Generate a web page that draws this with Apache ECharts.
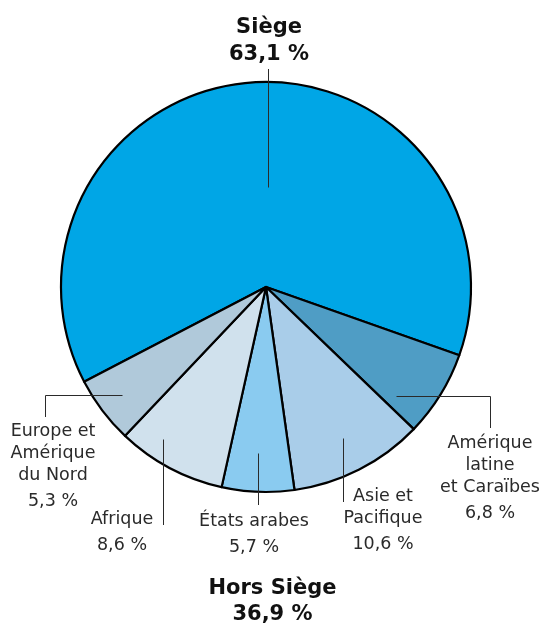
<!DOCTYPE html>
<html><head><meta charset="utf-8">
<script src="https://cdn.jsdelivr.net/npm/echarts@6/dist/echarts.min.js"></script>
<style>html,body{margin:0;padding:0;background:#fff}#c{width:545px;height:623px}</style>
</head><body><div id="c"></div>
<script>
// ---- data ----
const categories = ['Siège', 'Amérique latine et Caraïbes', 'Asie et Pacifique', 'États arabes', 'Afrique', 'Europe et Amérique du Nord'];
const labelNames = ['Siège', 'Amérique\nlatine\net Caraïbes', 'Asie et\nPacifique', 'États arabes', 'Afrique', 'Europe et\nAmérique\ndu Nord'];
const values = [63.1, 6.8, 10.6, 5.7, 8.6, 5.3];
const percentLabels = ['63,1 %', '6,8 %', '10,6 %', '5,7 %', '8,6 %', '5,3 %'];
const groupTitle = 'Hors Siège';
const groupPercent = '36,9 %';

// ---- styles / layout ----
const colors = ['#00A6E6', '#4F9DC5', '#A9CDE9', '#8ACBF0', '#D0E1ED', '#B0C9DA'];
const CX = 266, CY = 287, R = 205, START = 207.5;
const FONT = 'DejaVu Sans';
// leader lines: anchor radius, angle tweak from slice middle, optional elbow x, end y; label top-centre
const leaders = [
  { r: 100, da: -5.2, endY: 69,  lx: 269, ly: 14 },
  { r: 170, da: -8.3, elbowX: 490, endY: 428, lx: 490, ly: 432 },
  { r: 170, da: 0,    endY: 502, lx: 383, ly: 485 },
  { r: 166, da: -0.5, endY: 505, lx: 254, ly: 510 },
  { r: 184, da: -6.1, endY: 525, lx: 122, ly: 508 },
  { r: 180, da: 0,    elbowX: 45, endY: 417, lx: 53, ly: 420 }
];

const total = values.reduce((a, b) => a + b, 0);
const midAngles = [];
(function () {
  let a = START;
  values.forEach(v => {
    const sweep = v / total * 360;
    midAngles.push(a - sweep / 2);
    a -= sweep;
  });
})();

function leaderPoints(i) {
  const L = leaders[i];
  const th = (midAngles[i] + L.da) * Math.PI / 180;
  const ax = Math.round(CX + L.r * Math.cos(th)) + 0.5;
  const ay = Math.round(CY - L.r * Math.sin(th)) + 0.5;
  if (L.elbowX != null) return [[ax, ay], [L.elbowX + 0.5, ay], [L.elbowX + 0.5, L.endY]];
  return [[ax, ay], [ax, L.endY]];
}

const chart = echarts.init(document.getElementById('c'), null, { renderer: 'canvas' });
chart.setOption({
  animation: false,
  backgroundColor: '#fff',
  title: {
    text: groupTitle + '\n' + groupPercent,
    left: 'center',
    top: 576,
    padding: 0,
    textStyle: { fontFamily: FONT, fontSize: 21, fontWeight: 'bold', color: '#111', lineHeight: 26 }
  },
  graphic: categories.map((c, i) => ({
    type: 'polyline',
    silent: true,
    z: 100,
    shape: { points: leaderPoints(i) },
    style: { stroke: '#2a2a2a', lineWidth: 1, fill: null }
  })),
  series: [{
    type: 'pie',
    center: [CX, CY],
    radius: R,
    startAngle: START,
    clockwise: true,
    avoidLabelOverlap: false,
    silent: true,
    data: categories.map((c, i) => ({ name: c, value: values[i], itemStyle: { color: colors[i] } })),
    itemStyle: { borderColor: '#000', borderWidth: 2.2 },
    emphasis: { disabled: true },
    label: {
      show: true,
      position: 'outside',
      formatter: p => p.dataIndex === 0
        ? '{b|' + labelNames[0] + '}\n{b|' + percentLabels[0] + '}'
        : '{n|' + labelNames[p.dataIndex] + '}\n{p|' + percentLabels[p.dataIndex] + '}',
      rich: {
        n: { fontFamily: FONT, fontSize: 17.5, lineHeight: 22, color: '#2a2a2a', align: 'center' },
        p: { fontFamily: FONT, fontSize: 17.5, lineHeight: 30, color: '#2a2a2a', align: 'center' },
        b: { fontFamily: FONT, fontSize: 21, fontWeight: 'bold', lineHeight: 27, color: '#111', align: 'center' }
      }
    },
    labelLine: { show: false },
    labelLayout: params => {
      const i = params.dataIndex;
      return { x: leaders[i].lx, y: leaders[i].ly, align: 'center', verticalAlign: 'top' };
    }
  }]
});
</script>
</body></html>
